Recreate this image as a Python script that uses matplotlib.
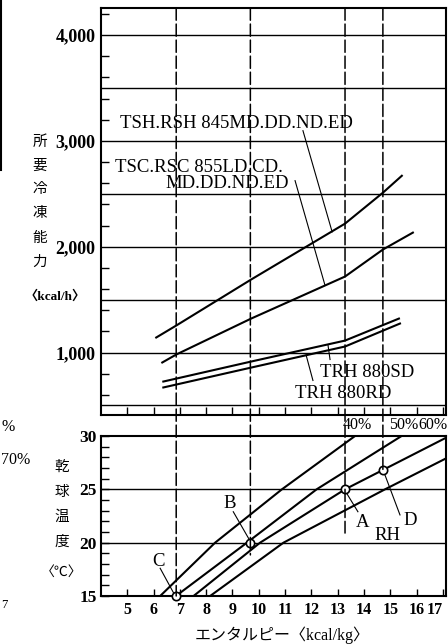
import matplotlib
matplotlib.use('Agg')
import matplotlib.pyplot as plt
from matplotlib.patches import ConnectionPatch
from matplotlib.lines import Line2D

plt.rcParams['font.family'] = ['Liberation Serif', 'Noto Sans CJK JP']

# upper panel: required refrigerating capacity (kcal/h) vs enthalpy (kcal/kg)
tsh_h = [6.10, 6.86, 9.71, 13.28, 14.72, 15.44]
tsh_q = [1142, 1255, 1690, 2218, 2510, 2670]
tsc_h = [6.33, 6.86, 9.71, 13.28, 14.72, 15.86]
tsc_q = [906, 981, 1321, 1718, 1973, 2133]
sd_h = [6.37, 9.71, 13.28, 15.33]
sd_q = [726, 915, 1113, 1321]
rd_h = [6.37, 9.71, 13.28, 15.37]
rd_q = [670, 858, 1057, 1274]

q_ticks = [1000, 2000, 3000, 4000]
q_ticklabels = ['1,000', '2,000', '3,000', '4,000']
q_grid = [500, 1000, 1500, 2000, 2500, 3000, 3500, 4000]

# lower panel: dry bulb temperature vs enthalpy, relative humidity curves
rh_t = [15, 20, 25, 30]
rh40_h = [6.25, 8.34, 10.88, 13.66]
rh50_h = [6.85, 9.55, 12.20, 15.43]
rh60_h = [7.52, 10.05, 13.28, 17.25]
rh70_t = [15, 20, 25, 28]
rh70_h = [8.15, 10.94, 14.80, 17.20]
rh_names = ['40%', '50%']

pt_names = ['A', 'B', 'C', 'D']
pt_h = [13.28, 9.68, 6.86, 14.72]
pt_t = [25, 20, 15, 26.8]
dash_end = [20.9, 18.85, 15, 26.8]

t_ticks = [15, 20, 25, 30]
h_ticks = list(range(5, 18))

W, H = 448, 644
fig = plt.figure(figsize=(W / 100, H / 100), dpi=100)

def px(x0, y0, x1, y1):
    return [x0 / W, 1 - y1 / H, (x1 - x0) / W, (y1 - y0) / H]

ax1 = fig.add_axes(px(101, 8, 446, 415))
ax2 = fig.add_axes(px(101, 436, 446, 596))
xlim = (4.0, 17.12)

# ---- upper panel
ax1.set_xlim(*xlim)
ax1.set_ylim(410, 4255)
for g in q_grid:
    ax1.axhline(g, color='k', lw=1.0)
ax1.plot(tsh_h, tsh_q, color='k', lw=1.5)
ax1.plot(tsc_h, tsc_q, color='k', lw=1.5)
ax1.plot(sd_h, sd_q, color='k', lw=1.5)
ax1.plot(rd_h, rd_q, color='k', lw=1.5)

ax1.set_yticks(q_ticks)
ax1.set_yticklabels(q_ticklabels, fontsize=13, fontweight='bold')
ax1.set_yticks(range(600, 4255, 200), minor=True)
ax1.set_xticks(h_ticks)
ax1.set_xticklabels([])
ax1.tick_params(axis='y', which='major', length=0, pad=4)
ax1.tick_params(axis='y', which='minor', direction='in', length=6, width=1)
ax1.tick_params(axis='x', direction='in', length=6, width=1)
for s in ax1.spines.values():
    s.set_linewidth(1.5)

lbl = dict(fontsize=13.5, color='k', va='center', ha='left')
ax1.text(4.73, 3162, 'TSH.RSH 845MD.DD.ND.ED', **lbl)
ax1.text(4.54, 2747, 'TSC.RSC 855LD.CD.', **lbl)
ax1.text(6.44, 2596, 'MD.DD.ND.ED', **lbl)
ax1.text(12.33, 811, 'TRH 880SD', **lbl)
ax1.text(11.38, 613, 'TRH 880RD', **lbl)
ax1.plot([11.68, 12.79], [3096, 2140], color='k', lw=0.8)
ax1.plot([11.38, 12.52], [2624, 1634], color='k', lw=0.8)
ax1.plot([12.71, 12.63], [934, 1075], color='k', lw=0.8)
ax1.plot([12.06, 11.80], [736, 976], color='k', lw=0.8)

# ---- lower panel
ax2.set_xlim(*xlim)
ax2.set_ylim(15, 30)
for g in [20, 25]:
    ax2.axhline(g, color='k', lw=1.0)
ax2.plot(rh40_h, rh_t, color='k', lw=1.5)
ax2.plot(rh50_h, rh_t, color='k', lw=1.5)
ax2.plot(rh60_h, rh_t, color='k', lw=1.5)
ax2.plot(rh70_h, rh70_t, color='k', lw=1.5)
ax2.plot(pt_h, pt_t, 'o', ms=6, mfc='white', mec='k', mew=1.2,
         clip_on=False, zorder=5)

ax2.set_yticks(t_ticks)
ax2.set_yticklabels([str(t) for t in t_ticks], fontsize=12.5, fontweight='bold')
ax2.set_yticks(range(16, 30), minor=True)
ax2.set_xticks(h_ticks)
xl = ax2.set_xticklabels([str(h) for h in h_ticks], fontsize=11.5,
                         fontweight='bold')
xl[-1].set_ha('right')  # last label sits at the right edge of the scan
ax2.tick_params(axis='y', which='major', direction='in', length=6, width=1, pad=3)
ax2.tick_params(axis='y', which='minor', direction='in', length=6, width=1)
ax2.tick_params(axis='x', direction='in', length=5, width=1, pad=4)
for s in ax2.spines.values():
    s.set_linewidth(1.5)

for name, hx in zip(rh_names, [13.74, 15.5]):
    ax2.text(hx, 31.0, name, fontsize=11.5, ha='center', va='center',
             clip_on=False)
fig.text(447 / W, 1 - 425 / H, '60%', fontsize=11.5, ha='right', va='center')
ax2.text(14.91, 20.7, 'RH', fontsize=13.5, ha='center', va='center')

plbl = dict(fontsize=13.5, ha='center', va='center')
ax2.text(13.96, 21.85, 'A', **plbl)
ax2.text(8.91, 23.7, 'B', **plbl)
ax2.text(6.18, 18.2, 'C', **plbl)
ax2.text(15.75, 22.1, 'D', **plbl)
ax2.plot([13.30, 13.77], [24.8, 22.9], color='k', lw=0.8)
ax2.plot([9.03, 9.66], [22.9, 20.2], color='k', lw=0.8)
ax2.plot([6.25, 6.78], [17.6, 15.2], color='k', lw=0.8)
ax2.plot([14.76, 15.37], [26.6, 22.6], color='k', lw=0.8)

# dashed guide lines running from the top panel down to the points
for hx, ye in zip(pt_h, dash_end):
    con = ConnectionPatch(xyA=(hx, 4255), coordsA=ax1.transData,
                          xyB=(hx, ye), coordsB=ax2.transData,
                          color='k', lw=1.1, linestyle=(0, (8, 2.5)))
    fig.add_artist(con)

# axis titles
for i, ch in enumerate('所要冷凍能力'):
    fig.text(40 / W, 1 - (142 + i * 24) / H, ch, fontsize=10.5,
             ha='center', va='center')
fig.text(55 / W, 1 - 297 / H, '〈kcal/h〉', fontsize=9.5, fontweight='bold',
         ha='center', va='center')
for i, ch in enumerate('乾球温度'):
    fig.text(62 / W, 1 - (467 + i * 25) / H, ch, fontsize=10.5,
             ha='center', va='center')
fig.text(62 / W, 1 - 572 / H, '〈℃〉', fontsize=10, ha='center', va='center')
fig.text(282 / W, 1 - 635 / H, 'エンタルピー〈kcal/kg〉', fontsize=11.5,
         ha='center', va='center')

# fragments of the neighbouring chart at the left edge of the scan
fig.text(1 / W, 1 - 427 / H, '%', fontsize=11.5, ha='left', va='center')
fig.text(1 / W, 1 - 460 / H, '70%', fontsize=11.5, ha='left', va='center')
fig.text(1 / W, 1 - 605 / H, '7', fontsize=9, ha='left', va='center')
fig.add_artist(Line2D([1 / W, 1 / W], [1, 1 - 170 / H], color='k', lw=1.5))

fig.savefig('out.png', dpi=100)
